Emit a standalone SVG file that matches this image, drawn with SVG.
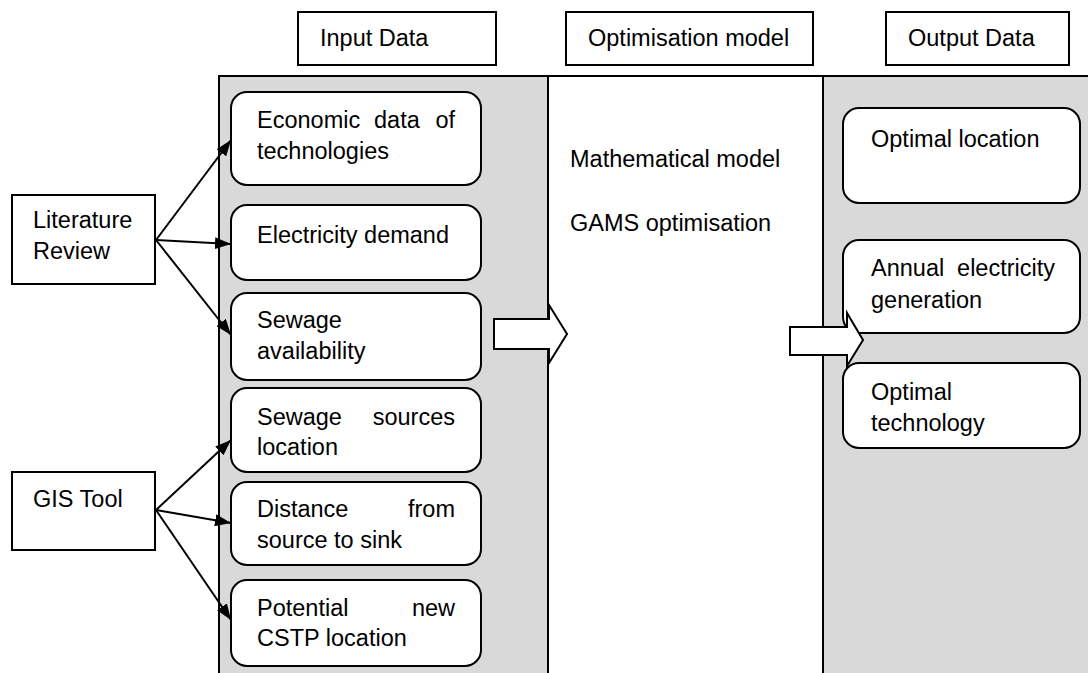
<svg xmlns="http://www.w3.org/2000/svg" width="1088" height="673" viewBox="0 0 1088 673">
<style>
text{font-family:"Liberation Sans",Arial,sans-serif;font-size:23.5px;fill:#000}
.hdr{fill:#fff;stroke:#000;stroke-width:2}
.box{fill:#fff;stroke:#000;stroke-width:2}
.rbox{fill:#fff;stroke:#000;stroke-width:2}
.pan{stroke:#000;stroke-width:2}
.con{stroke:#000;stroke-width:2;fill:none;marker-end:url(#ah)}
.bigarrow{fill:#fff;stroke:#000;stroke-width:2;stroke-linejoin:miter}
.e{text-anchor:end}
</style>
<defs>
<marker id="ah" viewBox="0 0 16 12" refX="16" refY="6" markerWidth="16" markerHeight="12" markerUnits="userSpaceOnUse" orient="auto">
<path d="M0,0 L16,6 L0,12 Z" fill="#000"/>
</marker>
</defs>
<rect width="1088" height="673" fill="#fff"/>
<g id="panels">
<rect x="219" y="76" width="329" height="600" fill="#d9d9d9"/>
<rect x="823" y="76" width="270" height="600" fill="#d9d9d9"/>
<line class="pan" x1="218" y1="76" x2="1088" y2="76"/>
<line class="pan" x1="219" y1="75" x2="219" y2="673"/>
<line class="pan" x1="548" y1="75" x2="548" y2="673"/>
<line class="pan" x1="823" y1="75" x2="823" y2="673"/>
</g>
<g id="hdr-input"><rect class="hdr" x="298" y="12" width="198" height="53"/><text x="320" y="46">Input Data</text></g>
<g id="hdr-opt"><rect class="hdr" x="566" y="12" width="247" height="53"/><text x="588" y="46">Optimisation model</text></g>
<g id="hdr-output"><rect class="hdr" x="886" y="12" width="183" height="53"/><text x="908" y="46">Output Data</text></g>
<g id="lit"><rect class="box" x="12" y="195" width="143" height="89"/><text x="33" y="228">Literature</text><text x="33" y="259">Review</text></g>
<g id="gis"><rect class="box" x="12" y="472" width="143" height="78"/><text x="33" y="507">GIS Tool</text></g>
<g id="econ"><rect class="rbox" x="231" y="92" width="250" height="93" rx="16"/><text x="257" y="128">Economic</text><text x="374" y="128">data</text><text class="e" x="455" y="128">of</text><text x="257" y="159">technologies</text></g>
<g id="elec"><rect class="rbox" x="231" y="205" width="250" height="75" rx="16"/><text x="257" y="243">Electricity demand</text></g>
<g id="sewavail"><rect class="rbox" x="231" y="293" width="250" height="87" rx="16"/><text x="257" y="328">Sewage</text><text x="257" y="359">availability</text></g>
<g id="sewloc"><rect class="rbox" x="231" y="388" width="250" height="84" rx="16"/><text x="257" y="425">Sewage</text><text class="e" x="455" y="425">sources</text><text x="257" y="455">location</text></g>
<g id="dist"><rect class="rbox" x="231" y="482" width="250" height="83" rx="16"/><text x="257" y="517">Distance</text><text class="e" x="455" y="517">from</text><text x="257" y="548">source to sink</text></g>
<g id="potential"><rect class="rbox" x="231" y="580" width="250" height="86" rx="16"/><text x="257" y="616">Potential</text><text class="e" x="455" y="616">new</text><text x="257" y="646">CSTP location</text></g>
<g id="model"><text x="570" y="167">Mathematical model</text><text x="570" y="231">GAMS optimisation</text></g>
<g id="optloc"><rect class="rbox" x="843" y="108" width="237" height="95" rx="16"/><text x="871" y="147">Optimal location</text></g>
<g id="annual"><rect class="rbox" x="843" y="240" width="237" height="93" rx="16"/><text x="871" y="276">Annual</text><text class="e" x="1055" y="276">electricity</text><text x="871" y="308">generation</text></g>
<g id="opttech"><rect class="rbox" x="843" y="363" width="237" height="85" rx="16"/><text x="871" y="400">Optimal</text><text x="871" y="431">technology</text></g>
<g id="connectors">
<line class="con" x1="156" y1="240" x2="231" y2="140"/>
<line class="con" x1="156" y1="240" x2="231" y2="244"/>
<line class="con" x1="156" y1="240" x2="231" y2="335"/>
<line class="con" x1="156" y1="510" x2="231" y2="440"/>
<line class="con" x1="156" y1="510" x2="231" y2="523"/>
<line class="con" x1="156" y1="510" x2="231" y2="620"/>
<path class="bigarrow" d="M494,319 L549,319 L549,305 L567,334 L549,363 L549,349 L494,349 Z"/>
<path class="bigarrow" d="M790,327 L847,327 L847,313 L863,340 L847,366 L847,355 L790,355 Z"/>
</g>
</svg>
